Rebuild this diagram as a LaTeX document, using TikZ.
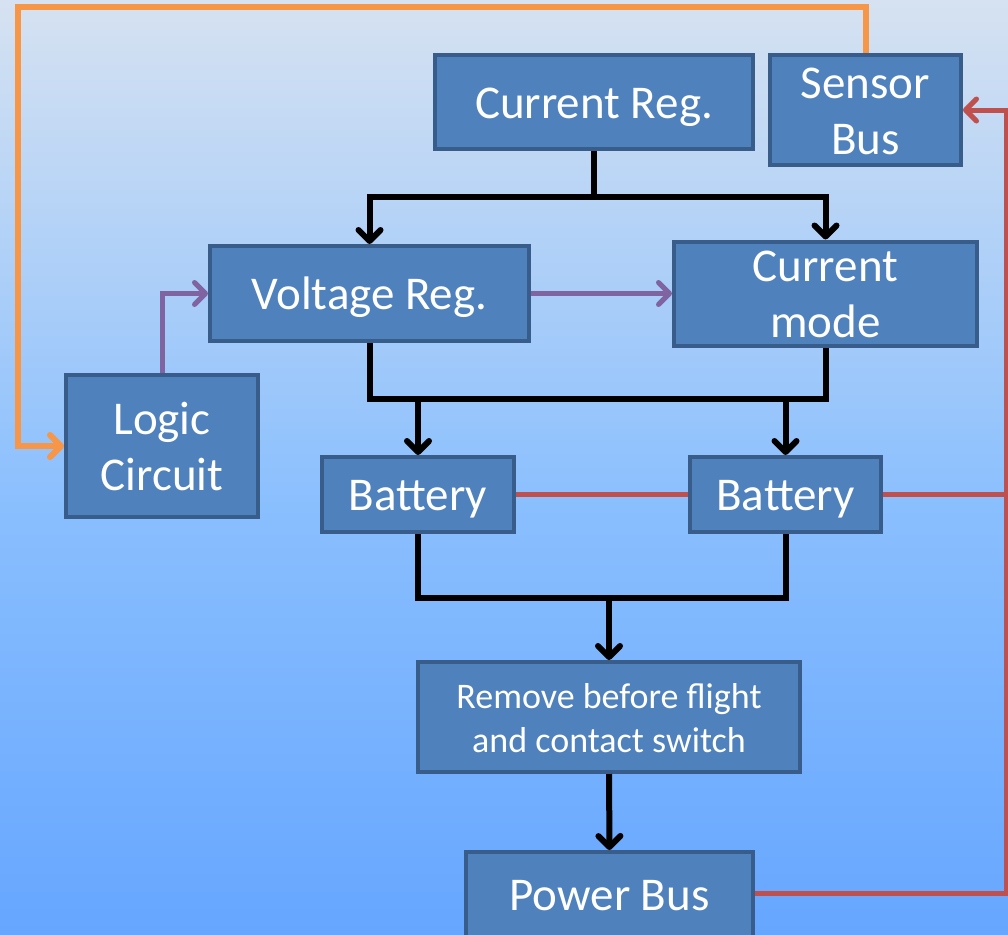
\documentclass[tikz,border=0pt]{standalone}
\usepackage{fontspec}
\setmainfont{Carlito}
\usetikzlibrary{arrows.meta}
\definecolor{boxfill}{HTML}{4F81BD}
\definecolor{boxline}{HTML}{385D8A}
\definecolor{orng}{HTML}{F79646}
\definecolor{redc}{HTML}{C0504D}
\definecolor{purp}{HTML}{8064A2}
\definecolor{bgtop}{RGB}{214,226,241}
\definecolor{bgmid}{RGB}{138,191,254}
\definecolor{bgbot}{RGB}{102,166,255}
\pgfdeclareverticalshading{bgshade}{100bp}{color(0bp)=(bgbot); color(25bp)=(bgbot); color(48bp)=(bgmid); color(75bp)=(bgtop); color(100bp)=(bgtop)}
\begin{document}
\begin{tikzpicture}[x=1pt,y=-1pt,
  blockbox/.style={draw=boxline, fill=boxfill, line width=4pt, text=white, align=center, inner sep=0pt,
    font=\fontsize{47}{56}\selectfont, text height=40pt, text depth=8pt},
  twoline/.style={text height=96pt, text depth=8pt},
  conn/.style={line width=6pt, line join=miter},
  blk/.style={conn, black},
  tip/.style={-{Straight Barb[length=11pt,width=22pt,line cap=round,line join=round]}},
  blkarr/.style={blk, tip},
  orngl/.style={conn, orng, line width=6pt},
  redl/.style={conn, redc, line width=5pt},
  purpl/.style={conn, purp, line width=5pt},
]
\useasboundingbox (0,0) rectangle (1008,934);
\clip (0,0) rectangle (1008,934);
\shade[shading=bgshade] (0,0) rectangle (1008,934);

\node[blockbox, minimum width=318pt, minimum height=94pt] (creg) at (594,102) {Current Reg.};
\node[blockbox, twoline, minimum width=191pt, minimum height=110pt] (sbus) at (865.5,110) {Sensor\\Bus};
\node[blockbox, minimum width=319pt, minimum height=95pt] (vreg) at (369.5,293.5) {Voltage Reg.};
\node[blockbox, twoline, minimum width=303pt, minimum height=95pt] (cmode) at (825.5,293.5) {Current\\mode};
\node[blockbox, twoline, minimum width=192pt, minimum height=142pt] (logic) at (162,446) {Logic\\Circuit};
\node[blockbox, minimum width=192pt, minimum height=75pt] (bat1) at (418,494.5) {Battery};
\node[blockbox, minimum width=191pt, minimum height=75pt] (bat2) at (785.5,494.5) {Battery};
\node[blockbox, minimum width=382pt, minimum height=110pt, font=\fontsize{36}{44}\selectfont, text height=76pt, text depth=6pt] (rbf) at (609,717) {Remove before flight\\and contact switch};
\node[blockbox, minimum width=287pt, minimum height=92pt] (pbus) at (609.5,898) {};
\node[text=white, font=\fontsize{47}{56}\selectfont, inner sep=0pt, anchor=base] (pbustext) at (609.5,910) {Power Bus};

% black connectors
\coordinate (j1) at (594,197);
\draw[blk] (creg.south) -- (j1);
\draw[blkarr] (j1) -| (vreg.north);
\draw[blkarr] (j1) -| (cmode.north);
\coordinate (j2) at (600,399);
\draw[blk] (vreg.south) |- (j2) -| (cmode.south);
\draw[blkarr] (bat1.north |- j2) -- (bat1.north);
\draw[blkarr] (bat2.north |- j2) -- (bat2.north);
\coordinate (j3) at (609,598);
\draw[blk] (bat1.south) |- (j3) -| (bat2.south);
\draw[blkarr] (j3) -- (rbf.north);
\draw[blkarr] (rbf.south) -- (pbus.north);

% purple
\draw[purpl, tip] (logic.north) |- (vreg.west);
\draw[purpl, tip] (vreg.east) -- (cmode.west);

% orange
\coordinate (o1) at (18,7);
\draw[orngl, tip] (sbus.north) |- (o1) |- (logic.west);

% red
\coordinate (r1) at (1006,494.5);
\coordinate (r2) at (1006,893);
\draw[redl] (bat1.east) -- (bat2.west);
\draw[redl] (bat2.east) -- (r1);
\draw[redl, tip] (pbus.east |- r2) -- (r2) |- (sbus.east);
\end{tikzpicture}
\end{document}
